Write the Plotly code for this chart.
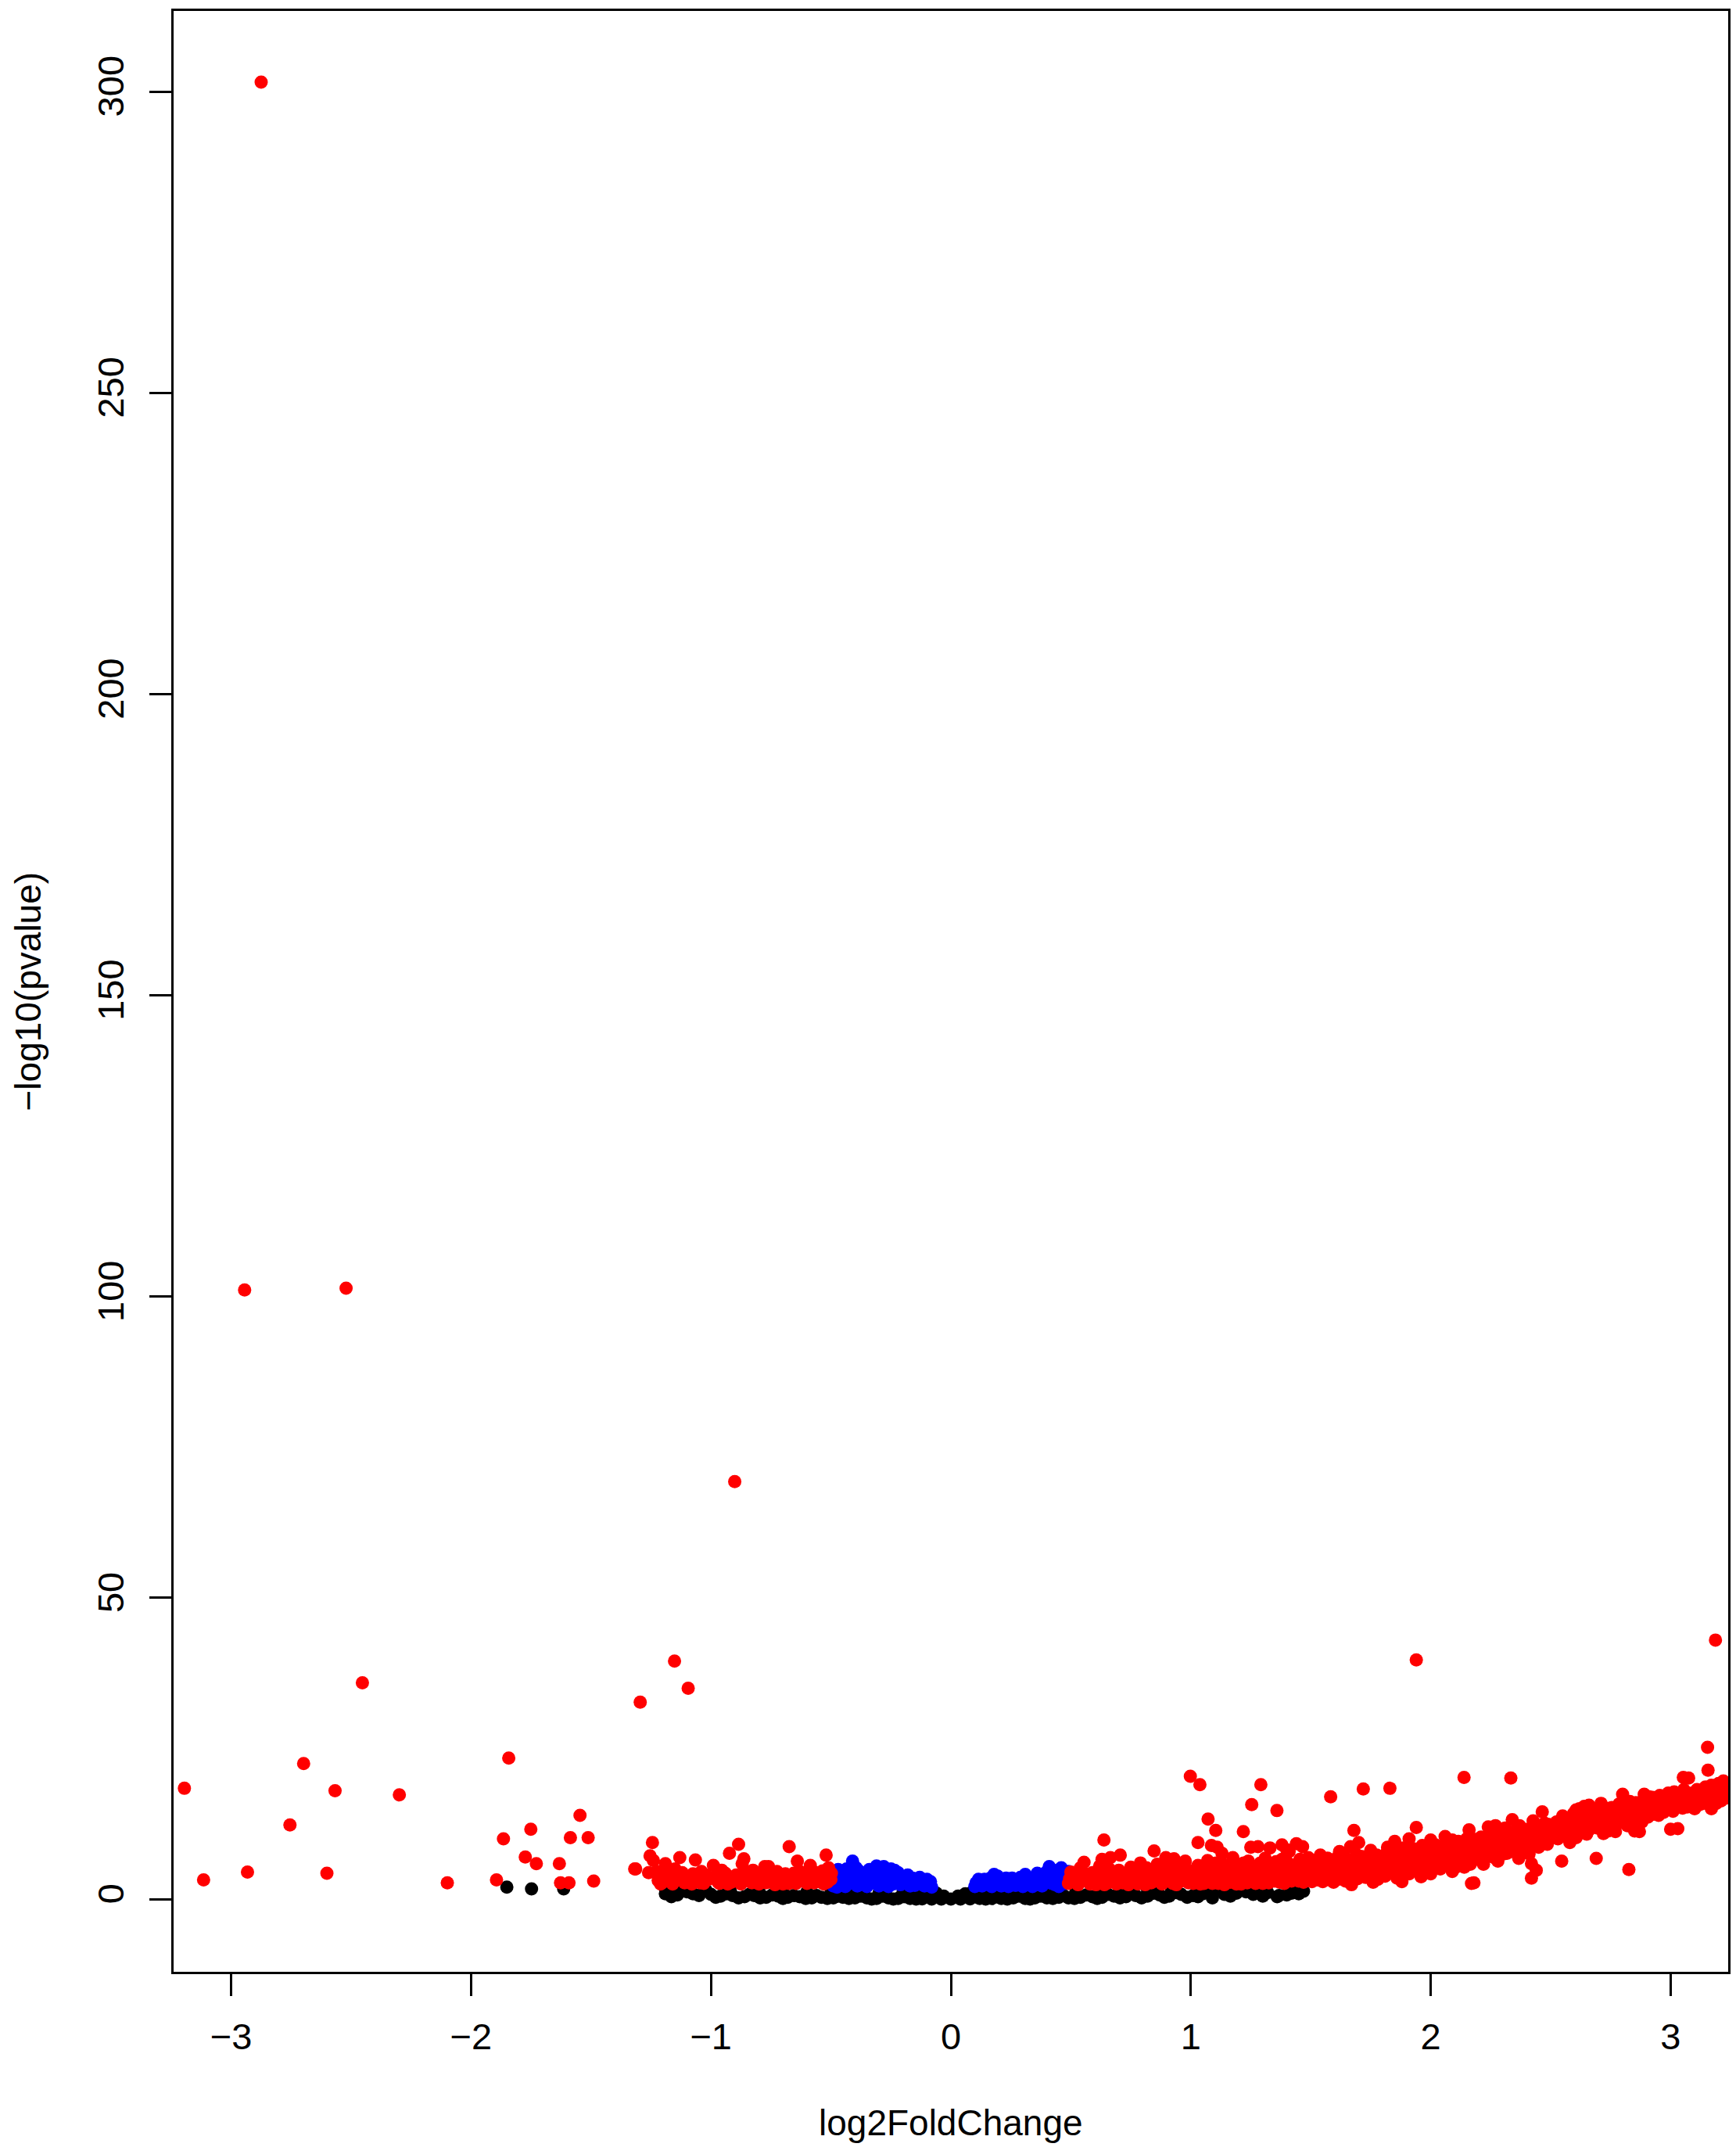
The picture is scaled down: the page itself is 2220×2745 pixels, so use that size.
import plotly.graph_objects as go

# ---------------- data ----------------
# not significant (black)
black_x = [-1.19, -1.14, -1.10, -1.05, -1.00, -0.96, -0.91, -0.86, -0.82, -0.77, -0.72, -0.68,
           -0.63, -0.58, -0.54, -0.49, -0.45, -0.40, -0.35, -0.31, -0.26, -0.22, -0.17, -0.12,
           -0.08, -0.04, 0.00, 0.04, 0.08, 0.12, 0.17, 0.21, 0.26, 0.31, 0.35, 0.40, 0.45, 0.49,
           0.54, 0.59, 0.63, 0.68, 0.73, 0.77, 0.82, 0.87, 0.91, 0.96, 1.01, 1.05, 1.09, 1.14,
           1.19, 1.26, 1.32, 1.36, 1.42, 1.47,
           -0.09, -0.06, -0.03, 0.03, 0.06, 0.09, -1.19, -1.16, 1.03, 1.12, 1.21, 1.264, 1.368,
           -1.165, -1.075, -0.98, -0.935, -0.885, -0.84, -0.795, -0.745, -0.70, -0.655, -0.605,
           -0.56, -0.515, -0.47, -0.425, -0.375, -0.33, -0.285, -0.24, -0.195, -0.145, -0.10,
           0.10, 0.145, 0.19, 0.235, 0.285, 0.33, 0.375, 0.425, 0.47, 0.515, 0.565, 0.61, 0.655,
           0.705, 0.75, 0.795, 0.845, 0.89, 0.94, 0.985, 1.03, 1.075, 1.165, 1.23, 1.30, 1.40, 1.45,
           -1.12, -1.02, -0.92, -0.80, -0.70, -0.60, -0.50, -0.40, -0.30, -0.20, -0.14,
           0.14, 0.22, 0.32, 0.42, 0.52, 0.62, 0.72, 0.82, 0.92, 1.15, 1.30, 1.42,
           -1.851, -1.748, -1.614]
black_y = [0.9, 0.7, 1.2, 0.6, 0.8, 0.5, 0.6, 0.4, 0.6, 0.3, 0.5, 0.3,
           0.4, 0.2, 0.3, 0.2, 0.3, 0.2, 0.2, 0.1, 0.2, 0.1, 0.1, 0.05,
           0.0, 0.0, 0.0, 0.0, 0.05, 0.1, 0.1, 0.1, 0.2, 0.1, 0.2, 0.2, 0.3, 0.2,
           0.3, 0.4, 0.3, 0.5, 0.4, 0.6, 0.5, 0.7, 0.5, 0.8, 0.6, 0.9, 0.2, 0.8,
           1.0, 0.8, 1.1, 0.4, 1.0, 1.3,
           1.2, 1.0, 0.5, 0.5, 0.9, 1.2, 1.8, 1.5, 1.6, 1.5, 1.7, 0.9, 0.6,
           0.4, 0.9, 0.3, 0.9, 0.2, 0.8, 0.2, 0.7, 0.1, 0.6, 0.1,
           0.6, 0.1, 0.5, 0.1, 0.5, 0.0, 0.5, 0.0, 0.4, 0.0, 0.6,
           0.5, 0.0, 0.4, 0.0, 0.5, 0.0, 0.5, 0.1, 0.6, 0.1, 0.7, 0.1, 0.8,
           0.2, 0.9, 0.2, 1.0, 0.3, 1.1, 0.3, 0.4, 1.2, 0.5, 1.2, 0.5, 0.7, 0.9,
           1.6, 1.4, 1.5, 1.3, 1.4, 1.2, 1.1, 1.2, 1.0, 1.1, 1.3,
           1.2, 1.0, 1.1, 1.2, 1.1, 1.3, 1.4, 1.5, 1.4, 1.3, 1.6, 1.7,
           2.0, 1.7, 1.7]

# significant, small fold change (blue)
blue_x = [-0.49, -0.48, -0.47, -0.46, -0.44, -0.43, -0.41, -0.41, -0.39, -0.38, -0.37, -0.35,
          -0.34, -0.33, -0.31, -0.30, -0.29, -0.28, -0.27, -0.26, -0.25, -0.24, -0.22, -0.21,
          -0.20, -0.18, -0.17, -0.16, -0.14, -0.13, -0.11, -0.10, -0.09, -0.08,
          -0.485, -0.475, -0.455, -0.45, -0.435, -0.42, -0.40, -0.395, -0.385, -0.36, -0.355,
          -0.345, -0.32, -0.315, -0.30, -0.295, -0.28, -0.265, -0.255, -0.24, -0.235, -0.23,
          -0.215, -0.19, -0.185, -0.17, -0.15, -0.145, -0.12, -0.105, -0.085,
          0.10, 0.115, 0.13, 0.15, 0.17, 0.18, 0.20, 0.21, 0.23, 0.24, 0.26, 0.27, 0.29, 0.30,
          0.31, 0.33, 0.34, 0.36, 0.37, 0.38, 0.40, 0.41, 0.42, 0.43, 0.44, 0.45, 0.46, 0.47,
          0.48, 0.49,
          0.105, 0.12, 0.14, 0.16, 0.165, 0.19, 0.195, 0.22, 0.225, 0.25, 0.255, 0.28, 0.285,
          0.295, 0.32, 0.325, 0.35, 0.355, 0.365, 0.39, 0.395, 0.405, 0.415, 0.425, 0.435,
          0.445, 0.455, 0.465, 0.475, 0.485]
blue_y = [2.2, 3.8, 4.9, 2.9, 2.1, 4.0, 6.3, 3.0, 2.2, 4.6, 3.4, 2.1,
          4.9, 3.1, 5.5, 2.2, 4.1, 5.4, 3.0, 2.1, 5.0, 3.7, 4.4, 2.4,
          3.3, 4.0, 2.2, 3.5, 2.6, 3.6, 2.2, 3.3, 2.4, 2.0,
          3.1, 2.0, 4.1, 3.4, 5.0, 2.6, 4.0, 5.2, 3.0, 2.6, 4.0,
          3.6, 4.4, 2.6, 3.6, 5.0, 2.5, 4.4, 3.4, 2.5, 4.8, 3.1,
          3.8, 2.9, 3.6, 3.1, 2.3, 3.2, 2.9, 2.6, 2.9,
          2.1, 3.3, 2.2, 2.8, 2.1, 4.1, 3.0, 2.2, 3.5, 2.1, 3.1, 2.3, 3.6, 2.1,
          4.1, 2.8, 2.1, 4.3, 3.2, 2.2, 3.8, 5.4, 2.6, 4.5, 3.1, 2.1, 5.2, 3.9,
          2.6, 4.6,
          2.7, 2.5, 3.3, 2.5, 3.5, 2.6, 3.8, 2.8, 3.3, 2.6, 3.5, 2.8, 3.0,
          2.6, 3.4, 2.4, 3.4, 2.6, 3.8, 2.7, 4.4, 3.2, 4.3, 3.6, 2.4,
          4.8, 3.5, 2.5, 4.5, 3.4]

# significant, large fold change (red)
red_x = [
    # left outliers
    -2.875, -2.944, -2.521, -0.901, -1.152, -1.095, -1.295, -2.453, -1.843, -2.698, -3.195,
    -2.567, -2.299, -2.755, -3.115, -2.932, -2.601, -2.099, -1.894, -1.865, -1.751, -1.774,
    -1.728, -1.632, -1.586, -1.546, -1.512, -1.627, -1.592, -1.489, -1.318,
    # left band
    -1.314, -1.244, -1.254, -1.26, -1.24, -1.19, -1.15, -1.20, -1.13, -1.11, -1.065, -1.054,
    -1.01, -0.99, -0.95, -0.923, -0.885, -0.863, -0.87, -0.906, -0.85, -0.83, -0.776, -0.76,
    -0.79, -0.733, -0.69, -0.674, -0.64, -0.62, -0.586, -0.57, -0.52, -0.50, -0.498, -0.55,
    -0.81, -0.68, -0.97, -1.09, -1.18, -1.20, -1.16, -1.03, -0.93, -0.88, -0.80, -0.72,
    -0.66, -0.60, -0.53, -0.51, -0.56, -0.63, -0.70, -0.745, -0.82, -0.94, -1.04, -1.10, -1.22,
    -1.225, -1.21, -1.195, -1.17, -1.14, -1.12, -1.08, -1.075, -1.045, -1.02, -0.985, -0.965,
    -0.955, -0.935, -0.915, -0.895, -0.875, -0.86, -0.84, -0.825, -0.80, -0.785, -0.77,
    -0.755, -0.74, -0.725, -0.71, -0.695, -0.675, -0.655, -0.645, -0.63, -0.61, -0.595,
    -0.575, -0.565, -0.545, -0.535, -0.515, -0.505,
    # right outliers
    1.94, 3.187, 3.154, 3.156, 3.053, 2.139, 2.334, 0.998, 1.038, 1.292, 1.719, 1.83, 1.583,
    1.254, 1.359, 1.072, 1.104, 1.219, 1.68, 1.94, 0.638, 2.18, 2.826, 2.69, 2.546, 2.44,
    2.42, 2.42, 3.00,
    # right band 0.48 - 1.0
    0.49, 0.50, 0.51, 0.53, 0.54, 0.555, 0.56, 0.58, 0.59, 0.61, 0.62, 0.63, 0.64, 0.65,
    0.665, 0.67, 0.69, 0.70, 0.706, 0.72, 0.74, 0.75, 0.76, 0.77, 0.79, 0.80, 0.81, 0.83,
    0.847, 0.85, 0.86, 0.88, 0.89, 0.896, 0.91, 0.93, 0.94, 0.95, 0.96, 0.977, 0.99, 1.00,
    0.495, 0.52, 0.525, 0.545, 0.57, 0.575, 0.60, 0.605, 0.615, 0.635, 0.655, 0.66, 0.68,
    0.685, 0.695, 0.715, 0.725, 0.735, 0.745, 0.765, 0.78, 0.785, 0.795, 0.815, 0.82, 0.835,
    0.84, 0.865, 0.87, 0.875, 0.90, 0.905, 0.915, 0.925, 0.935, 0.955, 0.965, 0.97, 0.985, 0.995,
    # right band 1.0 - 1.5
    1.02, 1.03, 1.03, 1.04, 1.06, 1.07, 1.086, 1.09, 1.11, 1.11, 1.12, 1.13, 1.14, 1.16,
    1.175, 1.18, 1.20, 1.21, 1.23, 1.24, 1.25, 1.26, 1.28, 1.28, 1.30, 1.31, 1.33, 1.33,
    1.35, 1.36, 1.38, 1.38, 1.39, 1.40, 1.41, 1.41, 1.43, 1.44, 1.44, 1.466, 1.47, 1.48, 1.49,
    1.01, 1.015, 1.025, 1.045, 1.05, 1.055, 1.065, 1.075, 1.08, 1.095, 1.10, 1.105, 1.115,
    1.125, 1.135, 1.145, 1.15, 1.165, 1.17, 1.185, 1.19, 1.195, 1.215, 1.22, 1.225, 1.235,
    1.245, 1.255, 1.265, 1.27, 1.285, 1.29, 1.295, 1.315, 1.32, 1.325, 1.34, 1.345, 1.355,
    1.365, 1.37, 1.385, 1.395, 1.405, 1.42, 1.425, 1.435, 1.45, 1.455, 1.46, 1.475, 1.485, 1.495,
    # right band 1.5 - 2.0
    1.51, 1.52, 1.54, 1.55, 1.57, 1.57, 1.58, 1.60, 1.62, 1.62, 1.64, 1.65, 1.666, 1.67,
    1.68, 1.70, 1.70, 1.71, 1.72, 1.74, 1.75, 1.76, 1.77, 1.78, 1.79, 1.80, 1.82, 1.83,
    1.85, 1.85, 1.86, 1.88, 1.88, 1.89, 1.91, 1.91, 1.92, 1.94, 1.95, 1.96, 1.98, 2.00,
    2.00, 2.01,
    1.505, 1.515, 1.525, 1.53, 1.535, 1.545, 1.56, 1.565, 1.575, 1.585, 1.59, 1.595, 1.605,
    1.61, 1.615, 1.625, 1.635, 1.64, 1.645, 1.655, 1.66, 1.675, 1.685, 1.69, 1.695, 1.705,
    1.715, 1.725, 1.73, 1.735, 1.745, 1.755, 1.765, 1.775, 1.785, 1.795, 1.805, 1.81, 1.815,
    1.825, 1.84, 1.845, 1.855, 1.865, 1.87, 1.875, 1.885, 1.895, 1.90, 1.905, 1.915, 1.925,
    1.93, 1.935, 1.945, 1.955, 1.965, 1.97, 1.975, 1.985, 1.99, 1.995,
    # right band 2.0 - 2.5
    2.03, 2.04, 2.06, 2.07, 2.09, 2.09, 2.10, 2.11, 2.13, 2.14, 2.16, 2.16, 2.17, 2.18,
    2.19, 2.21, 2.22, 2.23, 2.24, 2.25, 2.26, 2.27, 2.28, 2.296, 2.31, 2.318, 2.33, 2.34,
    2.35, 2.367, 2.367, 2.37, 2.38, 2.405, 2.41, 2.427, 2.43, 2.45, 2.465, 2.47, 2.486,
    2.49, 2.50,
    2.005, 2.015, 2.02, 2.025, 2.035, 2.045, 2.05, 2.055, 2.065, 2.075, 2.08, 2.085, 2.095,
    2.105, 2.115, 2.12, 2.125, 2.135, 2.145, 2.15, 2.155, 2.165, 2.175, 2.185, 2.195, 2.20,
    2.205, 2.215, 2.22, 2.235, 2.24, 2.245, 2.255, 2.265, 2.27, 2.285, 2.29, 2.305, 2.315,
    2.325, 2.335, 2.345, 2.355, 2.36, 2.375, 2.385, 2.39, 2.40, 2.415, 2.42, 2.435, 2.44,
    2.455, 2.46, 2.475, 2.48, 2.495,
    # right band 2.5 - 3.25
    2.524, 2.53, 2.546, 2.55, 2.57, 2.58, 2.59, 2.606, 2.606, 2.62, 2.63, 2.64, 2.66, 2.66,
    2.676, 2.69, 2.70, 2.71, 2.72, 2.74, 2.75, 2.76, 2.77, 2.785, 2.79, 2.80, 2.81, 2.82,
    2.83, 2.85, 2.85, 2.87, 2.87, 2.89, 2.90, 2.91, 2.93, 2.937, 2.96, 2.97, 2.99, 3.00,
    3.02, 3.03, 3.03, 3.04, 3.06, 3.075, 3.075, 3.09, 3.10, 3.127, 3.14, 3.17, 3.17, 3.19,
    3.20, 3.22, 3.23, 3.25,
    2.505, 2.515, 2.535, 2.54, 2.555, 2.56, 2.565, 2.575, 2.585, 2.595, 2.60, 2.615, 2.625,
    2.635, 2.645, 2.65, 2.655, 2.665, 2.67, 2.685, 2.695, 2.705, 2.715, 2.725, 2.73, 2.735,
    2.745, 2.755, 2.765, 2.775, 2.78, 2.795, 2.805, 2.815, 2.825, 2.835, 2.84, 2.855, 2.86,
    2.875, 2.88, 2.885, 2.895, 2.905, 2.915, 2.92, 2.925, 2.945, 2.95, 2.955, 2.965, 2.975,
    2.98, 2.985, 2.995, 3.005, 3.01, 3.015, 3.025, 3.045, 3.05, 3.055, 3.065, 3.07, 3.08,
    3.085, 3.095, 3.105, 3.11, 3.115, 3.12, 3.135, 3.145, 3.15, 3.155, 3.16, 3.175, 3.18,
    3.185, 3.195, 3.205, 3.21, 3.215, 3.225, 3.235, 3.24,
]
red_y = [
    # left outliers
    301.6, 101.1, 101.4, 69.3, 39.5, 35.0, 32.7, 35.9, 23.4, 22.5, 18.4,
    18.0, 17.3, 12.3, 3.2, 4.5, 4.3, 2.7, 3.2, 10.0, 11.6, 7.0,
    5.9, 5.9, 10.2, 13.9, 10.2, 2.7, 2.7, 3.0, 5.0,
    # left band
    5.0, 9.4, 7.2, 4.4, 6.4, 5.9, 5.0, 2.8, 6.9, 2.7, 6.5, 3.7,
    3.3, 5.6, 3.1, 7.6, 9.1, 6.7, 5.9, 3.3, 3.7, 2.7, 5.4, 5.4,
    4.4, 2.4, 4.2, 8.7, 6.3, 3.3, 5.6, 2.7, 7.3, 3.3, 4.3, 2.9,
    2.7, 2.7, 2.8, 3.0, 3.3, 4.4, 2.5, 2.6, 2.5, 3.0, 3.3, 3.6,
    3.1, 2.6, 2.5, 5.2, 4.4, 4.6, 2.5, 3.9, 4.0, 4.3, 4.6, 3.8, 3.1,
    4.6, 2.5, 3.7, 4.2, 3.4, 4.4, 2.5, 4.2, 2.7, 4.0, 3.6, 2.6,
    4.8, 3.5, 2.8, 4.0, 2.5, 4.5, 3.2, 4.8, 2.5, 3.7, 2.7,
    4.5, 2.9, 4.6, 3.0, 3.8, 2.6, 4.3, 2.6, 3.6, 4.3, 3.4,
    4.0, 3.1, 3.6, 4.7, 2.8, 3.9,
    # right outliers
    39.7, 43.0, 25.2, 21.4, 20.2, 20.2, 20.1, 20.4, 19.0, 19.0, 18.3, 18.4, 17.0,
    15.7, 14.7, 13.3, 11.4, 11.2, 11.4, 11.9, 9.8, 2.7, 4.9, 6.75, 6.3, 4.8,
    3.5, 5.9, 11.6,
    # right band 0.48 - 1.0
    2.6, 4.5, 3.5, 2.4, 5.2, 6.1, 3.3, 2.5, 4.4, 3.0, 5.5, 6.6, 2.4, 4.0,
    6.9, 3.1, 2.5, 4.8, 7.3, 3.5, 2.4, 5.3, 4.1, 2.9, 6.0, 3.6, 2.4, 4.7,
    8.0, 3.1, 5.8, 2.5, 4.2, 6.9, 3.3, 6.7, 2.4, 5.1, 3.9, 6.3, 2.7, 4.6,
    3.4, 2.9, 4.0, 3.0, 4.1, 2.9, 3.6, 2.4, 4.6, 3.3, 2.7, 5.0, 3.8,
    4.4, 3.0, 2.7, 4.2, 3.1, 4.7, 3.3, 2.5, 4.4, 3.0, 5.2, 3.4, 2.7,
    4.0, 3.6, 4.7, 2.9, 3.2, 5.4, 4.0, 2.6, 4.6, 2.9, 5.5, 3.4, 4.1, 3.3,
    # right band 1.0 - 1.5
    3.4, 9.4, 5.6, 2.5, 4.3, 6.4, 8.9, 2.6, 8.6, 3.8, 5.3, 7.6, 2.4, 4.6,
    6.9, 3.2, 5.6, 2.5, 4.1, 6.3, 8.6, 3.0, 8.7, 5.0, 2.6, 6.8, 8.5, 4.0,
    3.0, 5.7, 6.6, 9.0, 2.6, 8.2, 4.6, 7.9, 3.4, 9.2, 5.8, 8.7, 2.8, 4.5, 6.9,
    2.6, 4.8, 3.9, 3.3, 5.0, 2.6, 3.6, 5.5, 3.1, 4.4, 3.0, 6.0, 2.6,
    4.0, 5.8, 3.4, 5.0, 2.8, 4.0, 5.3, 2.5, 3.9, 3.4, 6.0, 4.8, 2.7,
    3.8, 5.4, 4.4, 2.6, 3.5, 6.0, 4.5, 3.3, 5.3, 2.7, 4.8, 3.6, 6.2,
    4.2, 2.8, 5.1, 3.6, 6.0, 3.0, 5.4, 4.1, 3.0, 6.6, 4.0, 5.3, 3.4, 4.4,
    # right band 1.5 - 2.0
    3.6, 5.4, 7.3, 2.9, 6.8, 4.4, 3.2, 5.7, 7.9, 3.8, 4.9, 6.5, 8.7, 2.4,
    3.6, 9.4, 5.5, 7.1, 4.2, 6.0, 8.1, 2.8, 4.9, 3.3, 7.0, 5.6, 8.6, 4.3,
    9.6, 6.4, 3.5, 2.9, 7.6, 5.1, 10.0, 4.2, 6.7, 8.3, 5.3, 3.7, 7.2, 9.8,
    4.2, 6.0,
    2.9, 4.4, 6.5, 3.2, 5.0, 4.0, 5.9, 3.6, 5.2, 4.2, 6.3, 2.8, 4.6,
    6.9, 3.3, 5.4, 4.2, 7.1, 3.0, 5.6, 4.3, 6.0, 4.8, 7.4, 3.4, 6.2,
    4.6, 5.6, 3.6, 7.0, 4.8, 6.4, 3.8, 7.3, 5.0, 4.1, 6.6, 3.8, 7.6,
    5.4, 6.8, 4.6, 7.9, 5.6, 4.2, 6.9, 8.5, 5.9, 4.6, 7.1, 5.6, 8.4,
    4.8, 6.4, 7.4, 5.9, 8.9, 4.6, 6.6, 5.4, 8.0, 6.9,
    # right band 2.0 - 2.5
    8.1, 5.0, 10.4, 6.8, 9.8, 4.6, 6.1, 8.5, 7.3, 5.3, 11.5, 9.2, 2.6, 6.9,
    8.0, 10.3, 5.8, 8.5, 12.0, 7.2, 9.6, 12.2, 6.3, 10.2, 11.8, 7.6, 9.0, 13.2,
    8.3, 11.1, 6.75, 12.2, 9.6, 9.8, 7.5, 13.0, 11.2, 8.6, 14.5, 10.4, 9.1,
    12.4, 11.0,
    5.2, 7.4, 9.0, 6.3, 5.6, 7.0, 8.8, 6.0, 7.9, 5.5, 9.0, 6.9, 7.6,
    5.3, 9.6, 6.4, 7.9, 8.6, 6.3, 10.0, 7.6, 5.8, 8.4, 9.9, 6.6, 7.8,
    9.2, 6.6, 8.9, 7.0, 10.4, 9.0, 8.1, 6.9, 10.8, 8.6, 9.5, 7.5, 9.0,
    10.6, 7.9, 10.0, 11.4, 8.8, 10.3, 8.2, 11.6, 10.6, 8.6, 11.9, 10.0, 9.0,
    11.6, 9.6, 12.6, 10.9, 9.9,
    # right band 2.5 - 3.25
    12.8, 10.0, 10.9, 13.8, 11.7, 9.4, 12.9, 14.8, 10.2, 15.0, 12.4, 15.4, 11.5, 15.6,
    13.9, 12.5, 13.0, 15.9, 10.9, 11.3, 14.4, 12.6, 11.2, 15.8, 14.1, 17.4, 13.0, 12.2,
    16.2, 14.8, 11.3, 14.9, 11.2, 17.4, 15.6, 17.0, 14.1, 16.5, 16.6, 14.4, 17.6, 15.2,
    16.4, 17.5, 11.7, 15.5, 17.5, 17.6, 20.1, 16.0, 15.0, 15.8, 17.9, 15.0, 18.9, 15.9,
    19.2, 19.6, 16.8, 18.5,
    12.0, 11.2, 12.0, 13.1, 11.4, 12.6, 10.4, 13.4, 11.0, 14.2, 11.8, 13.4, 11.0,
    14.0, 12.9, 10.8, 14.6, 13.1, 12.0, 14.6, 11.8, 14.2, 12.5, 13.6, 15.1, 12.0,
    13.0, 15.2, 13.8, 12.4, 14.7, 13.2, 15.4, 14.3, 13.5, 15.0, 12.8, 16.0, 13.9,
    15.5, 12.8, 16.4, 14.5, 13.6, 15.8, 14.8, 16.9, 15.4, 13.9, 17.2, 15.7, 16.3,
    14.9, 16.9, 15.9, 16.6, 14.6, 17.8, 15.8, 16.7, 15.1, 18.2, 16.3, 15.3, 17.0,
    15.8, 17.6, 16.5, 18.2, 15.6, 17.1, 16.3, 18.6, 15.9, 17.5, 16.6, 17.4, 16.2,
    18.2, 17.0, 17.6, 16.3, 18.4, 17.9, 17.2, 18.9,
]

x_ticks = [-3, -2, -1, 0, 1, 2, 3]
y_ticks = [0, 50, 100, 150, 200, 250, 300]
x_title = "log2FoldChange"
y_title = "\u2212log10(pvalue)"

# ---------------- figure ----------------
FONT = "Liberation Sans, Arial, Helvetica, sans-serif"
MS = 17

fig = go.Figure()
for xs, ys, col in [(black_x, black_y, "#000000"),
                    (blue_x, blue_y, "#0000FF"),
                    (red_x, red_y, "#FF0000")]:
    fig.add_trace(go.Scatter(x=xs, y=ys, mode="markers",
                             marker=dict(size=MS, color=col, line=dict(width=0)),
                             hoverinfo="x+y", showlegend=False))

axis_common = dict(showgrid=False, zeroline=False, showline=True, linecolor="black",
                   linewidth=3, mirror=True, ticks="outside", ticklen=28, tickwidth=3,
                   tickcolor="black", tickfont=dict(family=FONT, size=47, color="black"))

fig.update_xaxes(range=[-3.24, 3.24], tickmode="array", tickvals=x_ticks,
                 ticklabelstandoff=12, **axis_common)
fig.update_yaxes(range=[-12.06, 313.4], tickmode="array", tickvals=y_ticks,
                 tickangle=-90, ticklabelstandoff=14, **axis_common)

fig.add_annotation(text=x_title, xref="paper", yref="paper", x=0.5, y=0,
                   yshift=-193, xanchor="center", yanchor="middle", showarrow=False,
                   font=dict(family=FONT, size=46, color="black"))
fig.add_annotation(text=y_title, xref="paper", yref="paper", x=0, y=0.5,
                   xshift=-187, xanchor="center", yanchor="middle", textangle=-90,
                   showarrow=False, font=dict(family=FONT, size=46, color="black"))

fig.update_layout(width=2220, height=2745, paper_bgcolor="white", plot_bgcolor="white",
                  margin=dict(l=222, r=10, t=14, b=224, autoexpand=False))

# remove the browser's default 8px body margin so the figure fills the window exactly
fig.write_html("out.html",
               config={"displayModeBar": False},
               post_script="document.body.style.margin='0px';document.body.style.overflow='hidden';")
